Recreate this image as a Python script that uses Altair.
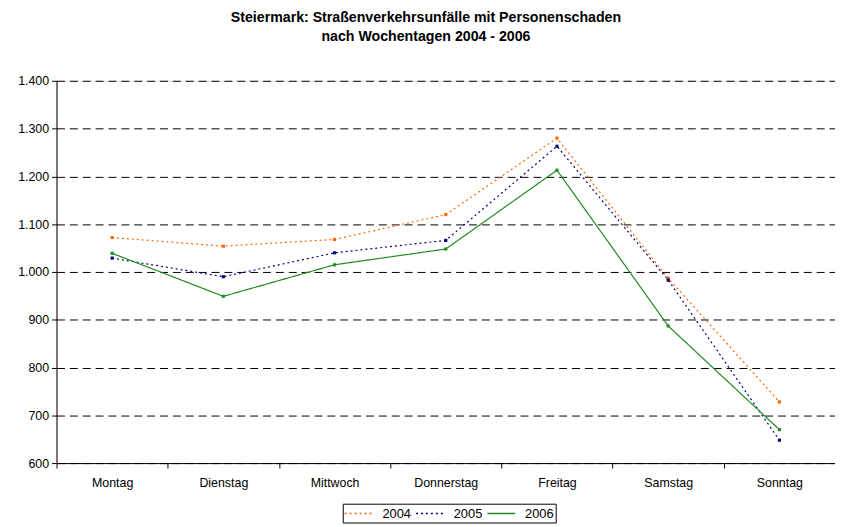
import altair as alt
import pandas as pd

days = ["Montag", "Dienstag", "Mittwoch", "Donnerstag", "Freitag", "Samstag", "Sonntag"]
v2004 = [1072, 1054, 1068, 1120, 1280, 987, 728]
v2005 = [1029, 990, 1040, 1066, 1263, 983, 648]
v2006 = [1039, 949, 1015, 1048, 1213, 887, 670]
years = ["2004", "2005", "2006"]
colors = ["#FF6600", "#000080", "#1E8C1E"]
dashes = [[2, 3], [2, 3], [1, 0]]
y_ticks = [600, 700, 800, 900, 1000, 1100, 1200, 1300, 1400]

rows = []
for yr, vals in zip(years, [v2004, v2005, v2006]):
    for d, v in zip(days, vals):
        rows.append({"Tag": d, "Wert": v, "Jahr": yr})
df = pd.DataFrame(rows)

label_expr = ("datum.value >= 1000 ? floor(datum.value/1000) + '.' + format(datum.value % 1000, '03d')"
              " : format(datum.value, 'd')")

x_enc = alt.X("Tag:N", sort=days,
              scale=alt.Scale(paddingInner=0, paddingOuter=0),
              axis=alt.Axis(title=None, tickBand="extent", labelAngle=0, labelFontSize=12.5,
                            labelColor="black", domainColor="black", tickColor="black",
                            tickSize=5, labelPadding=9, grid=False))
y_enc = alt.Y("Wert:Q",
              scale=alt.Scale(domain=[600, 1400], nice=False, zero=False),
              axis=alt.Axis(title=None, values=y_ticks, labelExpr=label_expr, labelFontSize=12.5,
                            labelColor="black", domainColor="black", tickColor="black",
                            tickSize=5, labelPadding=3, grid=True, gridDash=[8, 5],
                            gridColor="black", gridWidth=1))

color_scale = alt.Scale(domain=years, range=colors)
legend = alt.Legend(title=None, orient="none", legendX=289, legendY=427, direction="horizontal",
                    symbolType="M-2,0L2,0", symbolSize=196, symbolStrokeWidth=1.5,
                    labelFontSize=13, labelColor="black", strokeColor="black",
                    padding=2, columnPadding=2, symbolOffset=6, labelOffset=16)

line = alt.Chart(df).mark_line(strokeWidth=1.2).encode(
    x=x_enc, y=y_enc,
    color=alt.Color("Jahr:N", scale=color_scale, legend=legend),
    strokeDash=alt.StrokeDash("Jahr:N", scale=alt.Scale(domain=years, range=dashes), legend=legend),
)
points = alt.Chart(df).mark_point(shape="square", filled=True, size=10, opacity=1).encode(
    x=x_enc, y=y_enc,
    color=alt.Color("Jahr:N", scale=color_scale, legend=None),
)

chart = alt.layer(line, points).properties(
    width=786, height=386,
    title=alt.TitleParams(["Steiermark: Straßenverkehrsunfälle mit Personenschaden",
                           "nach Wochentagen 2004 - 2006"],
                          fontSize=14.3, fontWeight="bold", font="Liberation Sans",
                          anchor="middle", dx=-20, offset=31, color="black", lineHeight=19),
    autosize=alt.AutoSizeParams(type="none"),
    padding={"left": 49, "top": 71, "right": 0, "bottom": 60},
).configure_view(stroke=None).configure(font="Liberation Sans")

chart.save("out.html", embed_options={"renderer": "svg", "actions": False})
